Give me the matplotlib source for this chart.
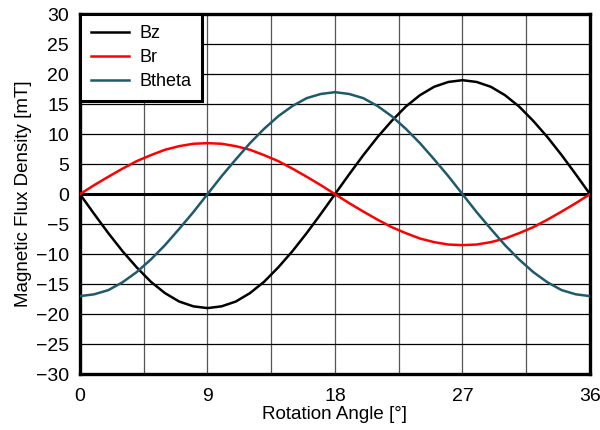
import matplotlib
matplotlib.use('Agg')
import matplotlib.pyplot as plt
from matplotlib.ticker import MultipleLocator

# Rotation angle [deg] and flux density readings [mT]
angle = list(range(0, 37))
bz = [0, -3.3, -6.5, -9.5, -12.2, -14.6, -16.5, -17.9, -18.7, -19.0,
      -18.7, -17.9, -16.5, -14.6, -12.2, -9.5, -6.5, -3.3, 0,
      3.3, 6.5, 9.5, 12.2, 14.6, 16.5, 17.9, 18.7, 19.0,
      18.7, 17.9, 16.5, 14.6, 12.2, 9.5, 6.5, 3.3, 0]
br = [0, 1.5, 2.9, 4.25, 5.5, 6.5, 7.4, 8.0, 8.4, 8.5,
      8.4, 8.0, 7.4, 6.5, 5.5, 4.25, 2.9, 1.5, 0,
      -1.5, -2.9, -4.25, -5.5, -6.5, -7.4, -8.0, -8.4, -8.5,
      -8.4, -8.0, -7.4, -6.5, -5.5, -4.25, -2.9, -1.5, 0]
btheta = [-17.0, -16.7, -16.0, -14.7, -13.0, -10.9, -8.5, -5.8, -3.0, 0,
          3.0, 5.8, 8.5, 10.9, 13.0, 14.7, 16.0, 16.7, 17.0,
          16.7, 16.0, 14.7, 13.0, 10.9, 8.5, 5.8, 3.0, 0,
          -3.0, -5.8, -8.5, -10.9, -13.0, -14.7, -16.0, -16.7, -17.0]

x_ticks = [0, 9, 18, 27, 36]
y_ticks = list(range(-30, 31, 5))

plt.rcParams['font.family'] = ['Liberation Sans', 'DejaVu Sans']

fig = plt.figure(figsize=(6, 4.3), dpi=100)
ax = fig.add_axes([0.1333, 0.130, 0.85, 0.837])

ax.xaxis.set_minor_locator(MultipleLocator(4.5))
ax.grid(axis='x', which='both', color='#555555', linewidth=0.9)
ax.grid(axis='y', which='major', color='black', linewidth=0.9)
ax.set_axisbelow(True)

ax.axhline(0, color='black', linewidth=2.2, zorder=2)
ax.plot(angle, bz, color='black', linewidth=1.8, label='Bz', zorder=3)
ax.plot(angle, br, color='#ff0000', linewidth=1.8, label='Br', zorder=3)
ax.plot(angle, btheta, color='#1f5a6b', linewidth=1.8, label='Btheta', zorder=3)

ax.set_xlim(0, 36)
ax.set_ylim(-30, 30)
ax.set_xticks(x_ticks)
ax.set_yticks(y_ticks)
ax.tick_params(axis='x', which='both', length=0, pad=10, labelsize=14)
ax.tick_params(axis='y', which='both', length=0, pad=8, labelsize=14)

for spine in ax.spines.values():
    spine.set_linewidth(2.4)
    spine.set_color('black')

ax.set_xlabel('Rotation Angle [°]', fontsize=13.5, labelpad=1)
ax.set_ylabel('Magnetic Flux Density [mT]', fontsize=13.5, labelpad=3)

leg = ax.legend(loc='upper left', borderaxespad=0, fancybox=False,
                framealpha=1, edgecolor='black', handlelength=2.1,
                handletextpad=0.6, fontsize=13, borderpad=0.6,
                labelspacing=0.4)
leg.get_frame().set_linewidth(2.2)

fig.savefig('out.png', dpi=100)
